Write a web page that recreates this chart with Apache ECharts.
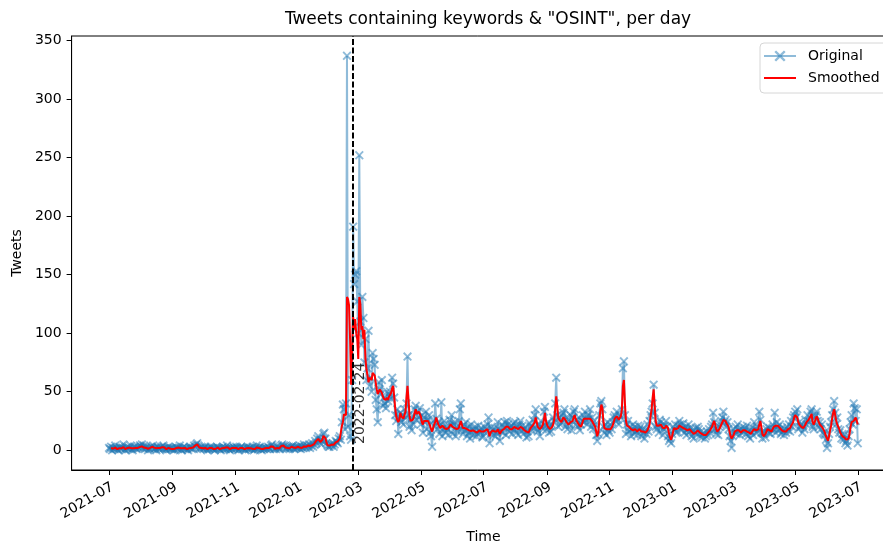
<!DOCTYPE html>
<html>
<head>
<meta charset="utf-8">
<script src="https://cdn.jsdelivr.net/npm/echarts@6/dist/echarts.min.js"></script>
<style>
  html, body { margin: 0; padding: 0; background: #ffffff; }
  #chart { width: 883px; height: 542px; }
</style>
</head>
<body>
<div id="chart"></div>
<script>
// Daily tweet counts, grouped by month (day 1 .. end of month)
const months = [
  '2021-07','2021-08','2021-09','2021-10','2021-11','2021-12',
  '2022-01','2022-02','2022-03','2022-04','2022-05','2022-06',
  '2022-07','2022-08','2022-09','2022-10','2022-11','2022-12',
  '2023-01','2023-02','2023-03','2023-04','2023-05','2023-06','2023-07'
];

const original = [
  [2,1,3,0,2,1,4,2,1,0,3,2,1,2,5,1,0,2,3,1,2,4,1,0,2,3,2,1,3,2,4],
  [3,5,2,4,1,3,2,0,2,1,3,2,4,1,2,0,3,2,1,2,3,1,4,2,1,0,2,3,1,2,1],
  [2,0,1,3,2,1,2,4,1,0,2,3,1,2,1,0,2,3,2,1,2,4,3,5,6,4,2,1,3,2],
  [1,2,3,1,0,2,1,3,2,1,2,0,1,3,2,2,1,0,2,3,1,2,1,4,2,1,0,2,1,3,2],
  [1,3,2,0,1,2,3,1,2,1,0,2,3,1,2,2,1,3,0,1,2,4,1,2,3,1,0,2,1,2],
  [2,1,3,2,1,4,5,3,1,2,1,3,2,1,2,4,5,3,4,2,1,3,2,1,2,3,4,2,1,3,2],
  [3,2,4,1,3,2,5,3,2,4,3,5,2,4,6,3,5,8,6,10,12,7,9,5,8,14,15,10,6,4,3],
  [3,5,4,6,3,5,8,7,6,10,12,9,24,39,35,18,40,337,20,30,12,9,60,191,142,150,153,127],
  [100,252,110,90,131,113,75,95,60,70,102,55,62,50,83,78,73,43,35,24,58,52,48,60,38,45,40,36,50,42,48],
  [50,44,62,57,45,30,25,35,14,28,32,24,30,22,35,28,40,80,30,20,26,17,30,22,35,38,26,33,28,36],
  [22,30,15,28,24,33,18,26,30,15,12,3,25,20,40,27,18,24,14,22,41,12,19,25,15,20,18,13,26,22,30],
  [14,22,24,12,20,16,25,35,40,18,14,22,17,24,12,20,15,10,22,18,13,17,20,12,14,21,17,15,19,11],
  [12,20,15,18,22,28,6,14,20,17,13,19,12,15,24,18,8,16,22,15,20,24,13,25,22,16,19,21,14,23,18],
  [24,15,20,13,22,25,17,21,14,18,20,11,16,12,23,20,17,26,19,30,35,18,16,22,12,25,20,18,33,37,21],
  [18,24,15,21,16,22,28,25,40,62,30,20,28,22,30,24,32,35,20,28,18,26,22,30,17,28,33,35,22,26],
  [20,28,17,22,25,30,24,33,26,22,30,27,35,20,28,18,25,22,13,8,14,30,40,42,35,20,15,22,13,24,17],
  [15,22,18,24,28,30,25,33,26,22,30,28,35,70,76,30,14,22,25,16,20,12,18,22,14,20,16,13,21,18],
  [20,12,18,15,10,17,14,22,16,25,30,33,40,56,32,20,18,22,15,26,24,20,13,18,21,25,20,12,8,10,6],
  [14,20,18,22,15,16,21,25,22,17,19,23,15,20,13,18,22,16,19,12,17,10,15,19,14,20,18,12,16,11,14],
  [15,10,12,16,13,18,15,20,22,32,24,18,14,17,13,20,22,25,28,33,24,26,20,24,18,12,8,2],
  [12,18,15,20,14,22,17,13,18,15,20,16,19,14,21,12,17,10,16,19,13,24,18,15,20,16,33,26,15,10,14],
  [16,11,18,20,15,19,14,17,22,18,32,15,24,20,17,22,14,19,16,13,18,15,20,17,22,16,25,20,28,30],
  [33,28,35,18,24,20,22,15,21,18,26,22,30,25,24,33,35,20,18,28,30,33,25,20,24,18,22,15,14,13,9],
  [2,6,14,20,24,30,35,42,32,22,28,18,15,17,10,14,9,13,6,8,4,12,18,24,30,22,40,36,25,35],
  [6]
];

const smoothed = [
  [null,null,2,1.7,1.3,2.3,2.3,1.7,1,1.3,1.7,2,1.7,2.7,2.7,2,1,1.7,2,2,2.3,2.3,1.7,1,1.7,2.3,2,2,2,3,2.7],
  [3.3,3.3,3.7,2.3,2.7,2,1.7,1.3,1,2,2,3,2.3,2.3,1,1.7,1.7,2,1.7,2,2,2.7,2.3,2.3,1,1,1.7,2,2,1.3,1.7],
  [1,1,1.3,2,2,1.7,2.3,2.3,1.7,1,1.7,2,2,1.3,1,1,1.7,2.3,2,1.7,2.3,3,4,4.7,5,4,2.3,2,2,1.7],
  [1.7,2,2,1.3,1,1,2,2,2,1.7,1,1,1.3,2,2.3,1.7,1,1,1.7,2,2,1.3,2.3,2.3,2.3,1,1,1,2,2,2],
  [2,2,1.7,1,1,2,2,2,1.3,1,1,1.7,2,2,1.7,1.7,2,1.3,1.3,1,2.3,2.3,2.3,2,2,1.3,1,1,1.7,1.7],
  [2,2,2,2,2.7,3.3,4,3,2,1.3,2,2,2,1.7,2.3,3.7,4,4,3,2.3,2,2,2,1.7,2,3,3,2.3,2,2,2.7],
  [3,3,2.3,2.7,2,3.3,3.3,3.3,3,3,4,3.3,3.7,4,4.3,4.7,5.3,6.3,8,9.3,9.7,9.3,7,7.3,9,12.3,13,10.3,6.7,4.3,4],
  [4,4.3,4.7,4.3,4.7,5.3,6.7,7,7.7,9.3,10,11,20.7,24,30.7,31,30,131,129,124,95,56,85,114,103,112,100,95],
  [78,131,125,103,106,95,103,78,69,64,58,62,63,60,66,66,64,58,52,48,50,52,52,49,46,44,44,43,45,43,46],
  [46,49,53,55,46,36,29,26,24,26,32,29,28,27,30,33,45,55,43,29,25,24,26,28,32,35,31,32,33,31],
  [29,24,22,25,24,25,24,25,24,21,18,16,19,22,24,28,25,22,21,19,20,21,20,19,19,18,18,19,20,22,21],
  [20,19,19,18,18,17,19,22,25,22,19,18,19,19,18,17,17,16,16.5,17,17,16,16,15,15,16,17,16,16,16],
  [16,16,17,17,18,19.6,12,15,16,17,16,16,15,16,18,17,14,15,17,18,18,19,20,21,20,19,18,19,18,19,20],
  [20,19,18,18,19,20,20,19,18,17,17,16,15,15,17,19,20,21,22,24,28,24,20,19,18,19,20,22,26,32,25],
  [22,20,19,18,19,20,22,26,35,46,38,28,26,25,24,26,28,29,26,24,23,22,23,24,23,25,28,30,27,25],
  [24,22,21,20,22,25,27,28,27,26,27,28,27,26,25,23,22,20,16,12,15,25,34,39,36,25,19,18,18,19,18],
  [18,18,19,21,24,27,28,29,28,26,27,29,35,55,60,40,25,21,21,20,19,18,18,17,18,18,17,16,17,18],
  [17,16,17,16,15,15,16,17,18,22,29,35,45,52,38,25,21,20,21,21,22,21,19,18,19,21,22,19,14,11,9],
  [12,16,19,18,18,18,19,21,22,20,19,19,19,18,17,17,18,18,17,16,15,14,14,15,16,17,16,15,14,14,13],
  [13,12,13,14,15,16,17,18,20,23,25,22,18,16,16,18,20,22,24,26,27,25,23,22,20,16,12,10],
  [11,13,16,17,17,18,17,16,15,16,17,18,17,16,16,16,15,14,14,16,17,18,18,17,17,18,22,25,20,14,12],
  [12,14,16,18,18,17,16,16,18,20,21,21,20,21,20,19,18,17,17,16,16,16,17,18,18,19,21,22,24,28],
  [30,31,28,24,22,22,20,19,19,20,22,24,25,26,27,29,31,24,22,24,27,29,27,24,22,21,20,19,17,15,12],
  [10,8,12,17,21,27,32,35,30,25,22,21,18,15,13.6,12,11,10.8,10,9,8,10,14,20,24,24,25,26,28,25],
  [22]
];

const eventDate = '2022-02-24';
const yTicks = [0, 50, 100, 150, 200, 250, 300, 350];
const xTickMonths = ['2021-07','2021-09','2021-11','2022-01','2022-03','2022-05','2022-07',
                     '2022-09','2022-11','2023-01','2023-03','2023-05','2023-07'];

function monthStart(ym) {
  const [y, m] = ym.split('-').map(Number);
  return new Date(y, m - 1, 1).getTime();
}
function dayStamp(ym, day) {
  const [y, m] = ym.split('-').map(Number);
  return new Date(y, m - 1, day).getTime();
}
function toPoints(groups) {
  const pts = [];
  groups.forEach((vals, mi) => {
    vals.forEach((v, di) => pts.push([dayStamp(months[mi], di + 1), v]));
  });
  return pts;
}

const origPts = toPoints(original);
const smoothPts = toPoints(smoothed);

// 5% margins around the data range on both axes
const allVals = original.flat();
const vMax = Math.max(...allVals), vMin = Math.min(...allVals);
const yPad = (vMax - vMin) * 0.05;
const tFirst = origPts[0][0], tLast = origPts[origPts.length - 1][0];
const tPad = (tLast - tFirst) * 0.05;

const [ey, em, ed] = eventDate.split('-').map(Number);
const eventTs = new Date(ey, em - 1, ed).getTime();
const xTickValues = xTickMonths.map(monthStart);

const FONT = 'DejaVu Sans';
// "x" marker outline (two crossed bars)
const xMark = 'path://M0,1.5L1.5,0L5,3.5L8.5,0L10,1.5L6.5,5L10,8.5L8.5,10L5,6.5L1.5,10L0,8.5L3.5,5Z';

const chart = echarts.init(document.getElementById('chart'), null, { renderer: 'canvas' });
chart.setOption({
  animation: false,
  backgroundColor: '#ffffff',
  textStyle: { fontFamily: FONT },
  title: {
    text: 'Tweets containing keywords & "OSINT", per day',
    left: 483, top: 6, textAlign: 'center',
    textStyle: { fontFamily: FONT, fontSize: 17, fontWeight: 'normal', color: '#000' }
  },
  grid: {
    left: 71.6, right: -12.2, top: 36, bottom: 72,
    outerBoundsMode: 'none',
    show: true, borderColor: '#000', borderWidth: 1, backgroundColor: 'transparent',
    containLabel: false
  },
  legend: {
    orient: 'vertical', left: 760, top: 43,
    padding: [6, 8, 8, 3], itemGap: 8,
    itemWidth: 32, itemHeight: 14,
    backgroundColor: '#ffffff', borderColor: '#d6d6d6', borderWidth: 1, borderRadius: 4,
    textStyle: { fontFamily: FONT, fontSize: 14, color: '#000', padding: [0, 0, 0, 7] },
    data: ['Original', { name: 'Smoothed', itemStyle: { opacity: 0 } }]
  },
  xAxis: {
    type: 'value', min: tFirst - tPad, max: tLast + tPad, scale: true,
    name: 'Time', nameLocation: 'middle', nameGap: 60,
    nameTextStyle: { fontFamily: FONT, fontSize: 14, color: '#000' },
    axisLine: { show: true, onZero: false, lineStyle: { color: '#000', width: 1 } },
    axisTick: { show: true, length: 5, lineStyle: { color: '#000', width: 1 },
                customValues: xTickValues },
    axisLabel: {
      rotate: 30, margin: 10, verticalAlign: 'top',
      fontFamily: FONT, fontSize: 14, color: '#000',
      customValues: xTickValues,
      formatter: function (v) {
        const d = new Date(v);
        return d.getFullYear() + '-' + String(d.getMonth() + 1).padStart(2, '0');
      }
    },
    splitLine: { show: false }
  },
  yAxis: {
    type: 'value', min: vMin - yPad, max: vMax + yPad,
    name: 'Tweets', nameLocation: 'middle', nameGap: 46,
    nameTextStyle: { fontFamily: FONT, fontSize: 14, color: '#000' },
    axisLine: { show: true, onZero: false, lineStyle: { color: '#000', width: 1 } },
    axisTick: { show: true, length: 5, lineStyle: { color: '#000', width: 1 }, customValues: yTicks },
    axisLabel: { margin: 10, fontFamily: FONT, fontSize: 14, color: '#000', customValues: yTicks },
    splitLine: { show: false }
  },
  series: [
    {
      name: 'Original', type: 'line', data: origPts,
      z: 2,
      symbol: xMark, symbolSize: 9, showSymbol: true, showAllSymbol: true,
      lineStyle: { color: '#1f77b4', width: 2, opacity: 0.5 },
      itemStyle: { color: '#1f77b4', opacity: 0.5 },
      emphasis: { disabled: true }
    },
    {
      name: 'Smoothed', type: 'line', data: smoothPts,
      z: 3, symbol: 'none', showSymbol: false,
      lineStyle: { color: '#ff0000', width: 2 },
      itemStyle: { color: '#ff0000' },
      emphasis: { disabled: true },
      markLine: {
        silent: true, symbol: 'none', animation: false,
        label: { show: false },
        lineStyle: { color: '#000', type: [6, 2.5], width: 2 },
        data: [{ xAxis: eventTs }]
      }
    },
    {
      name: 'event', type: 'scatter', z: 4, silent: true,
      symbolSize: 0,
      data: [[eventTs, 4.5]],
      label: {
        show: true, position: [0, 0], offset: [1, 0], rotate: 90,
        align: 'left', verticalAlign: 'top',
        fontFamily: FONT, fontSize: 14, color: '#000',
        formatter: eventDate
      }
    }
  ]
});
</script>
</body>
</html>
